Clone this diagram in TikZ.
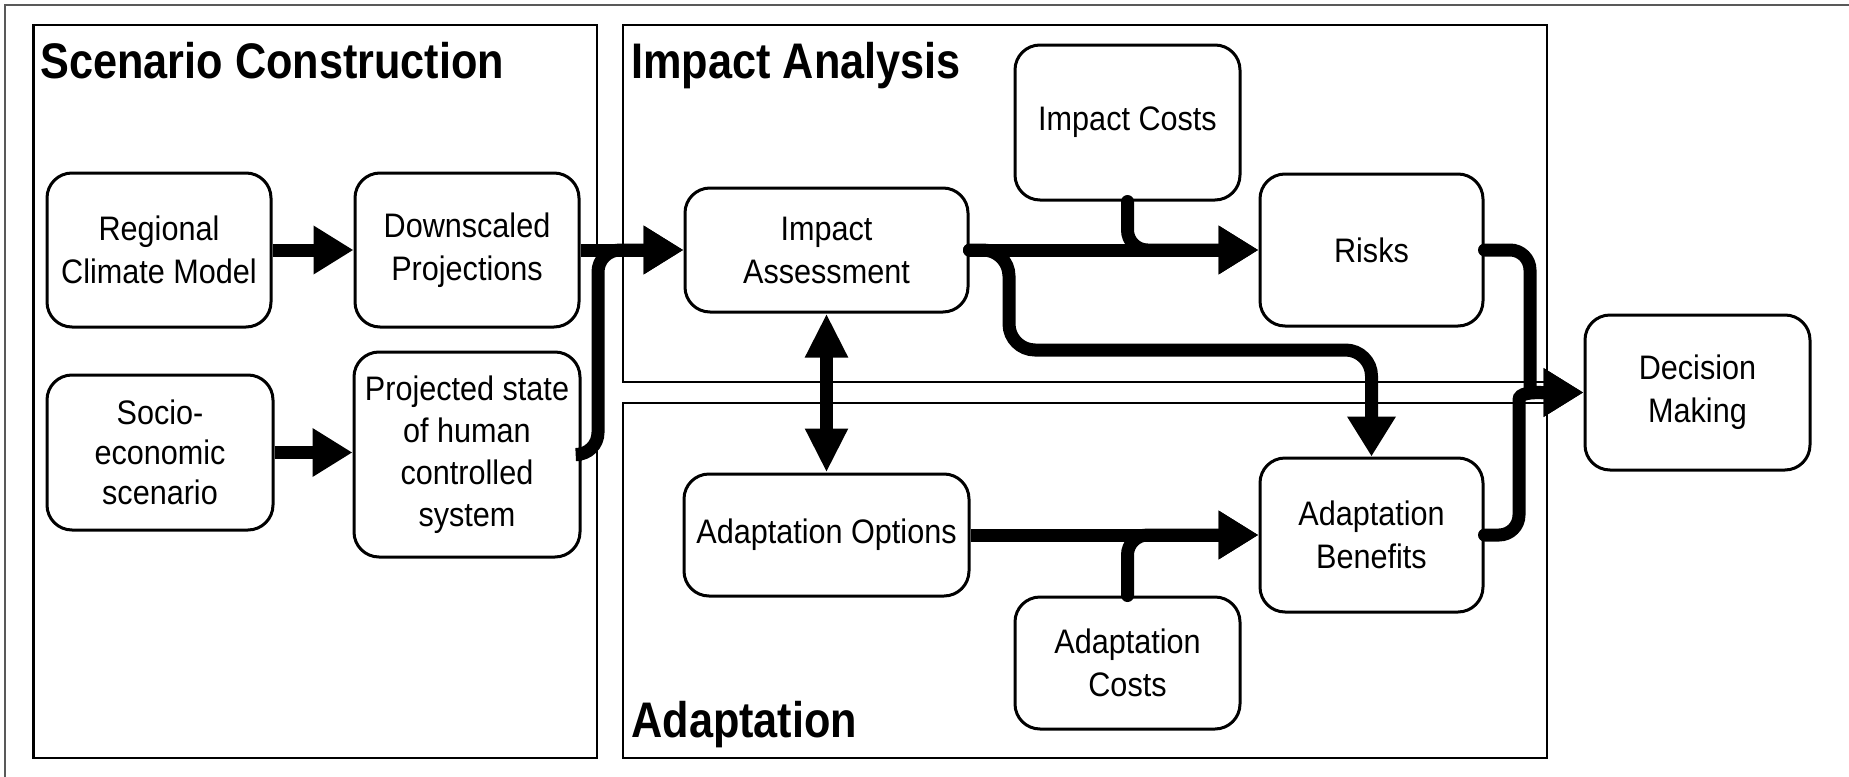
\documentclass[tikz,border=0pt]{standalone}
\usepackage{fontspec}
\setmainfont{Liberation Sans}
\newfontfamily\bodyfont[FakeStretch=0.9]{Liberation Sans}
\newfontfamily\titlefont[FakeStretch=0.865]{Liberation Sans}
\usetikzlibrary{arrows.meta}

\begin{document}
\begin{tikzpicture}[x=0.5pt,y=-0.5pt,
  box/.style={draw, line width=1.5pt, rounded corners=12.5pt, fill=white,
    align=center, inner sep=0pt, font={\bodyfont\fontsize{17}{21.5}\selectfont}},
  panel/.style={draw, line width=1.1pt},
  paneltitle/.style={anchor=base west, inner sep=0pt,
    font={\titlefont\bfseries\fontsize{25}{30}\selectfont}},
  conn/.style={line width=6.5pt, line cap=round, -{Triangle[length=20pt,width=23pt]}},
  flat/.style={line cap=butt},
  biconn/.style={line width=6.5pt,
    {Triangle[length=22pt,width=20pt]}-{Triangle[length=22pt,width=20pt]}},
]
\useasboundingbox (0,0) rectangle (1849,777);

% outer frame
\draw[black!65, line width=0.7pt] (5,777) -- (5,5) -- (1849,5);

% panels
\draw[panel] (33.5,25) rectangle (597,758);
\draw[panel] (623,25) rectangle (1547,382);
\draw[panel] (623,403) rectangle (1547,758);

\node[paneltitle] (tsc) at (40,78) {Scenario Construction};
\node[paneltitle] (tia) at (631,78) {Impact Analysis};
\node[paneltitle] (tad) at (631,737) {Adaptation};

% boxes
\node[box, minimum width=112pt, minimum height=77pt] (rcm) at (159,250) {Regional\\Climate Model};
\node[box, minimum width=112pt, minimum height=77pt] (dp) at (467,250) {Downscaled\\Projections};
\node[box, minimum width=113pt, minimum height=77.5pt,
  font={\bodyfont\fontsize{17}{20}\selectfont}] (se) at (160,452.5) {Socio-\\economic\\scenario};
\node[box, minimum width=113pt, minimum height=102.5pt,
  font={\bodyfont\fontsize{17}{21}\selectfont}] (ps) at (467,454.5)
  {Projected state\\of human\\controlled\\system};
\node[box, minimum width=141.5pt, minimum height=62pt] (ia) at (826.5,250) {Impact\\Assessment};
\node[box, minimum width=142.5pt, minimum height=61pt] (ao) at (826.5,535) {Adaptation Options};
\node[box, minimum width=112.5pt, minimum height=77.5pt] (ic) at (1127.5,122.5) {Impact Costs};
\node[box, minimum width=111.5pt, minimum height=76pt] (risks) at (1371.5,250) {Risks};
\node[box, minimum width=111.5pt, minimum height=77pt] (ab) at (1371.5,535) {Adaptation\\Benefits};
\node[box, minimum width=112.5pt, minimum height=66pt] (ac) at (1127.5,663) {Adaptation\\Costs};
\node[box, minimum width=112.5pt, minimum height=77.5pt] (dm) at (1697.5,392.5) {Decision\\Making};

% bend points
\coordinate (psup) at (598,454.5);
\coordinate (iadown) at (1009,350);
\coordinate (rbend) at (1530,366);
\coordinate (abend) at (1519,420);

% connectors
\draw[conn, flat] (rcm.east) -- (dp.west);
\draw[conn, flat] (se.east) -- (se.east -| ps.west);
\draw[conn, flat] (dp.east) -- (ia.west);
\draw[conn, flat, rounded corners=11pt] (ps.east) -- (psup) |- (ia.west);
\draw[conn] (ia.east) -- (risks.west);
\draw[conn, rounded corners=10pt] (ic.south) |- (risks.west);
\draw[conn, rounded corners=13pt] (ia.east) -| (iadown) -| (ab.north);
\draw[conn, flat] (ao.east) -- (ab.west);
\draw[conn, rounded corners=10pt] (ac.north) |- (ab.west);
\draw[biconn] (ia.south) -- (ao.north);
\draw[conn, rounded corners=10pt] (risks.east) -| (rbend)
  .. controls (1530,393) and (1535,392.5) .. (dm.west);
\draw[conn, rounded corners=10pt] (ab.east) -| (abend)
  .. controls (1519,393) and (1530,392.5) .. (dm.west);
\end{tikzpicture}
\end{document}
